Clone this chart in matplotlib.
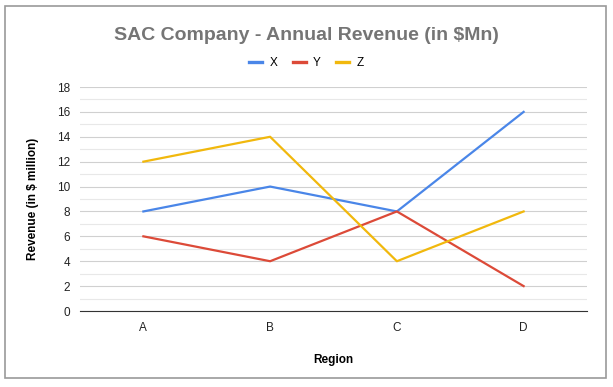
import matplotlib.pyplot as plt
from matplotlib.patches import Rectangle
from matplotlib.lines import Line2D

plt.rcParams['font.family'] = ['Liberation Sans', 'DejaVu Sans']

regions = ["A", "B", "C", "D"]
x_vals = [8, 10, 8, 16]
y_vals = [6, 4, 8, 2]
z_vals = [12, 14, 4, 8]
series = [("X", x_vals, "#4a86e8"), ("Y", y_vals, "#dc4a38"), ("Z", z_vals, "#f1b80d")]

fig = plt.figure(figsize=(6.13, 3.87), dpi=100)
# outer chart border
fig.patches.append(Rectangle((5.5 / 613, 1 - 378 / 387), 600.5 / 613, 372 / 387,
                             transform=fig.transFigure, fill=False,
                             edgecolor="#9a9a9a", linewidth=1.2))
ax = fig.add_axes([80 / 613, 1 - 311 / 387, 507 / 613, 224 / 387])

pos = range(len(regions))
for name, vals, color in series:
    ax.plot(pos, vals, color=color, linewidth=1.6)

ax.set_xlim(-0.5, 3.5)
ax.set_ylim(0, 18)
ax.set_yticks(range(0, 19, 2))
ax.set_yticks(range(1, 18, 2), minor=True)
ax.set_xticks(list(pos))
ax.set_xticklabels(regions)
ax.grid(axis="y", which="major", color="#d0d0d0", linewidth=0.8)
ax.grid(axis="y", which="minor", color="#e8e8e8", linewidth=0.8)
ax.set_axisbelow(True)
for s in ["top", "right", "left"]:
    ax.spines[s].set_visible(False)
ax.spines["bottom"].set_color("#333333")
ax.tick_params(which="both", length=0, labelsize=8.5, colors="#222222")
ax.tick_params(axis="x", pad=8)
ax.tick_params(axis="y", pad=7)

ax.set_xlabel("Region", fontsize=8.5, fontweight="bold", labelpad=14)
ax.set_ylabel("Revenue (in $ million)", fontsize=8.5, fontweight="bold", labelpad=13)

fig.text(0.5, 1 - 35 / 387, "SAC Company - Annual Revenue (in $Mn)", ha="center", va="center",
         fontsize=14, fontweight="bold", color="#757575")
handles = [Line2D([], [], color=c, linewidth=2.4) for _, _, c in series]
labels = [n for n, _, _ in series]
fig.legend(handles, labels, loc="center", bbox_to_anchor=(0.5, 1 - 63 / 387), ncol=3,
           frameon=False, fontsize=8.5, handlelength=1.1, columnspacing=1.3,
           handletextpad=0.65)

fig.savefig("out.png", dpi=100)
